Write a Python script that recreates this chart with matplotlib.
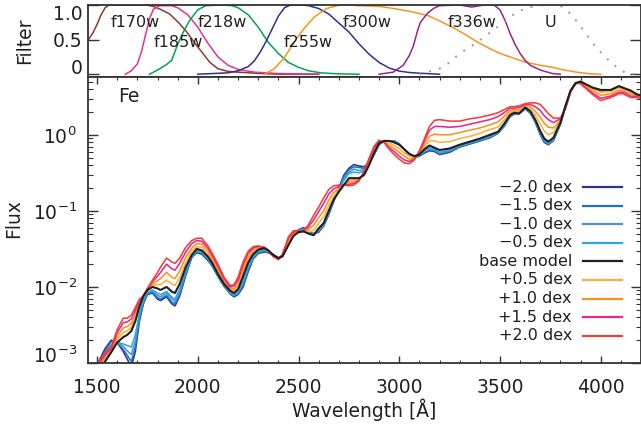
import numpy as np
import matplotlib
matplotlib.use("Agg")
import matplotlib.pyplot as plt
from matplotlib.lines import Line2D
from matplotlib.ticker import MultipleLocator, LogLocator, NullFormatter, NullLocator

plt.rcParams['font.family'] = ['DejaVu Sans']
plt.rcParams['mathtext.fontset'] = 'dejavusans'

# ---------------- spectra (log10 flux) ----------------
wave = [1510, 1540, 1570, 1600, 1630, 1650, 1670, 1690, 1710, 1730,
        1750, 1775, 1800, 1815, 1845, 1870, 1887, 1910, 1940, 1970,
        1995, 2020, 2050, 2070, 2100, 2130, 2160, 2180, 2200, 2225,
        2250, 2275, 2300, 2330, 2350, 2375, 2400, 2420, 2450, 2475,
        2500, 2525, 2550, 2575, 2600, 2625, 2650, 2675, 2700, 2725,
        2750, 2775, 2800, 2825, 2850, 2875, 2900, 2925, 2950, 2975,
        3000, 3025, 3050, 3075, 3100, 3125, 3150, 3175, 3200, 3250,
        3300, 3350, 3400, 3450, 3490, 3520, 3550, 3570, 3595, 3625,
        3650, 3675, 3700, 3720, 3740, 3765, 3800, 3825, 3850, 3875,
        3900, 3930, 3960, 4000, 4050, 4090, 4110, 4150, 4180, 4200]

log_m20 = [-2.97, -2.81, -2.70, -2.73, -2.85, -2.95, -3.05, -2.85, -2.45, -2.22,
           -2.10, -2.08, -2.16, -2.18, -2.13, -2.22, -2.25, -2.12, -1.85, -1.61,
           -1.55, -1.57, -1.65, -1.72, -1.86, -1.99, -2.09, -2.13, -2.10, -2.00,
           -1.80, -1.63, -1.56, -1.54, -1.55, -1.58, -1.62, -1.59, -1.42, -1.31,
           -1.25, -1.22, -1.28, -1.30, -1.28, -1.20, -1.05, -0.87, -0.70, -0.53,
           -0.44, -0.39, -0.41, -0.42, -0.37, -0.26, -0.13, -0.08, -0.08, -0.08,
           -0.12, -0.19, -0.27, -0.30, -0.28, -0.24, -0.21, -0.22, -0.26, -0.23,
           -0.16, -0.12, -0.08, -0.04, 0.02, 0.11, 0.24, 0.27, 0.28, 0.34,
           0.29, 0.17, 0.00, -0.10, -0.13, -0.08, 0.14, 0.37, 0.57, 0.67,
           0.70, 0.65, 0.61, 0.58, 0.58, 0.63, 0.61, 0.57, 0.53, 0.52]

log_m15 = [-2.99, -2.84, -2.72, -2.73, -2.82, -2.90, -2.98, -2.79, -2.42, -2.21,
           -2.09, -2.07, -2.14, -2.16, -2.11, -2.20, -2.22, -2.10, -1.83, -1.61,
           -1.54, -1.56, -1.64, -1.71, -1.86, -1.99, -2.08, -2.12, -2.09, -1.98,
           -1.78, -1.62, -1.55, -1.53, -1.55, -1.58, -1.62, -1.59, -1.42, -1.31,
           -1.25, -1.23, -1.28, -1.30, -1.27, -1.19, -1.04, -0.87, -0.71, -0.55,
           -0.46, -0.42, -0.43, -0.44, -0.37, -0.26, -0.13, -0.08, -0.08, -0.08,
           -0.12, -0.19, -0.27, -0.30, -0.28, -0.23, -0.20, -0.21, -0.25, -0.22,
           -0.16, -0.12, -0.08, -0.03, 0.02, 0.11, 0.24, 0.27, 0.28, 0.34,
           0.29, 0.17, 0.01, -0.09, -0.12, -0.07, 0.14, 0.37, 0.57, 0.67,
           0.70, 0.65, 0.61, 0.58, 0.58, 0.63, 0.61, 0.57, 0.53, 0.52]

log_m10 = [-3.02, -2.87, -2.76, -2.73, -2.78, -2.84, -2.89, -2.71, -2.38, -2.19,
           -2.08, -2.05, -2.11, -2.13, -2.08, -2.16, -2.19, -2.06, -1.81, -1.60,
           -1.53, -1.55, -1.63, -1.71, -1.85, -1.98, -2.08, -2.11, -2.08, -1.95,
           -1.76, -1.61, -1.54, -1.52, -1.54, -1.58, -1.62, -1.59, -1.43, -1.32,
           -1.26, -1.24, -1.29, -1.31, -1.26, -1.19, -1.03, -0.86, -0.72, -0.58,
           -0.49, -0.45, -0.47, -0.46, -0.38, -0.25, -0.12, -0.08, -0.08, -0.09,
           -0.12, -0.19, -0.26, -0.29, -0.27, -0.22, -0.19, -0.20, -0.24, -0.21,
           -0.15, -0.11, -0.07, -0.03, 0.03, 0.12, 0.25, 0.28, 0.28, 0.35,
           0.30, 0.18, 0.02, -0.08, -0.12, -0.07, 0.15, 0.37, 0.57, 0.68,
           0.70, 0.65, 0.61, 0.58, 0.58, 0.63, 0.61, 0.57, 0.53, 0.52]

log_m05 = [-3.04, -2.90, -2.79, -2.73, -2.75, -2.77, -2.79, -2.63, -2.35, -2.17,
           -2.07, -2.04, -2.08, -2.10, -2.06, -2.13, -2.16, -2.03, -1.79, -1.59,
           -1.52, -1.54, -1.62, -1.70, -1.84, -1.97, -2.07, -2.10, -2.06, -1.92,
           -1.73, -1.60, -1.53, -1.51, -1.53, -1.58, -1.62, -1.60, -1.44, -1.32,
           -1.27, -1.25, -1.29, -1.31, -1.25, -1.18, -1.02, -0.86, -0.73, -0.60,
           -0.51, -0.49, -0.50, -0.48, -0.39, -0.25, -0.12, -0.08, -0.08, -0.09,
           -0.13, -0.19, -0.26, -0.29, -0.27, -0.21, -0.17, -0.19, -0.23, -0.20,
           -0.14, -0.10, -0.06, -0.02, 0.03, 0.13, 0.25, 0.28, 0.28, 0.35,
           0.30, 0.19, 0.03, -0.07, -0.11, -0.06, 0.15, 0.38, 0.58, 0.68,
           0.70, 0.66, 0.62, 0.59, 0.59, 0.64, 0.62, 0.58, 0.53, 0.52]

log_base = [-3.10, -2.98, -2.86, -2.73, -2.66, -2.63, -2.58, -2.45, -2.26, -2.12,
            -2.04, -2.00, -2.02, -2.04, -2.00, -2.06, -2.08, -1.96, -1.74, -1.58,
            -1.50, -1.52, -1.60, -1.68, -1.83, -1.96, -2.05, -2.08, -2.03, -1.86,
            -1.68, -1.57, -1.51, -1.49, -1.52, -1.58, -1.62, -1.60, -1.45, -1.33,
            -1.28, -1.27, -1.30, -1.32, -1.23, -1.16, -1.00, -0.85, -0.75, -0.66,
            -0.57, -0.57, -0.57, -0.53, -0.40, -0.24, -0.11, -0.08, -0.08, -0.10,
            -0.13, -0.19, -0.25, -0.28, -0.26, -0.19, -0.14, -0.17, -0.20, -0.18,
            -0.13, -0.09, -0.05, 0.00, 0.04, 0.14, 0.26, 0.29, 0.28, 0.36,
            0.31, 0.20, 0.05, -0.05, -0.09, -0.04, 0.16, 0.38, 0.58, 0.68,
            0.70, 0.66, 0.62, 0.59, 0.59, 0.64, 0.62, 0.58, 0.53, 0.52]

log_p05 = [-3.07, -2.95, -2.84, -2.69, -2.60, -2.58, -2.53, -2.41, -2.24, -2.12,
           -2.04, -1.98, -1.97, -1.97, -1.91, -1.96, -1.98, -1.88, -1.68, -1.53,
           -1.47, -1.48, -1.57, -1.65, -1.80, -1.94, -2.03, -2.05, -1.99, -1.81,
           -1.64, -1.55, -1.50, -1.49, -1.52, -1.58, -1.62, -1.59, -1.42, -1.31,
           -1.28, -1.27, -1.27, -1.26, -1.16, -1.08, -0.93, -0.81, -0.73, -0.66,
           -0.60, -0.59, -0.58, -0.52, -0.38, -0.22, -0.10, -0.09, -0.11, -0.14,
           -0.18, -0.24, -0.28, -0.29, -0.25, -0.16, -0.08, -0.08, -0.10, -0.09,
           -0.05, -0.02, 0.02, 0.07, 0.10, 0.19, 0.29, 0.31, 0.31, 0.37,
           0.34, 0.26, 0.14, 0.05, 0.00, 0.03, 0.18, 0.37, 0.58, 0.68,
           0.69, 0.65, 0.60, 0.56, 0.57, 0.62, 0.60, 0.56, 0.52, 0.51]

log_p10 = [-3.04, -2.93, -2.83, -2.65, -2.54, -2.52, -2.48, -2.36, -2.21, -2.12,
           -2.03, -1.96, -1.92, -1.89, -1.81, -1.87, -1.89, -1.79, -1.61, -1.49,
           -1.43, -1.44, -1.53, -1.62, -1.77, -1.92, -2.02, -2.03, -1.95, -1.77,
           -1.61, -1.52, -1.49, -1.48, -1.52, -1.59, -1.63, -1.59, -1.40, -1.30,
           -1.27, -1.27, -1.24, -1.19, -1.09, -1.00, -0.86, -0.76, -0.71, -0.66,
           -0.62, -0.62, -0.59, -0.51, -0.36, -0.20, -0.09, -0.09, -0.14, -0.18,
           -0.23, -0.28, -0.32, -0.31, -0.24, -0.12, -0.02, 0.01, 0.00, 0.00,
           0.03, 0.06, 0.09, 0.13, 0.17, 0.24, 0.32, 0.33, 0.33, 0.39,
           0.37, 0.31, 0.23, 0.15, 0.10, 0.09, 0.19, 0.36, 0.57, 0.68,
           0.69, 0.63, 0.58, 0.52, 0.54, 0.59, 0.58, 0.54, 0.51, 0.50]

log_p15 = [-3.00, -2.89, -2.81, -2.60, -2.47, -2.46, -2.42, -2.31, -2.18, -2.12,
           -2.02, -1.93, -1.86, -1.81, -1.70, -1.76, -1.78, -1.69, -1.54, -1.43,
           -1.39, -1.40, -1.49, -1.58, -1.73, -1.89, -2.00, -1.99, -1.91, -1.71,
           -1.56, -1.49, -1.47, -1.48, -1.52, -1.60, -1.64, -1.58, -1.36, -1.28,
           -1.26, -1.26, -1.21, -1.12, -1.01, -0.90, -0.78, -0.71, -0.68, -0.66,
           -0.65, -0.64, -0.60, -0.49, -0.33, -0.17, -0.08, -0.10, -0.17, -0.22,
           -0.28, -0.33, -0.35, -0.32, -0.22, -0.08, 0.06, 0.11, 0.11, 0.10,
           0.11, 0.14, 0.17, 0.20, 0.24, 0.29, 0.35, 0.35, 0.36, 0.40,
           0.40, 0.37, 0.32, 0.25, 0.20, 0.16, 0.21, 0.35, 0.56, 0.68,
           0.68, 0.61, 0.55, 0.48, 0.51, 0.56, 0.56, 0.51, 0.50, 0.49]

log_p20 = [-2.97, -2.87, -2.79, -2.56, -2.41, -2.41, -2.37, -2.27, -2.16, -2.12,
           -2.02, -1.91, -1.81, -1.74, -1.62, -1.67, -1.69, -1.62, -1.48, -1.39,
           -1.36, -1.36, -1.46, -1.55, -1.70, -1.87, -1.98, -1.97, -1.87, -1.67,
           -1.53, -1.47, -1.46, -1.48, -1.52, -1.60, -1.64, -1.57, -1.34, -1.26,
           -1.26, -1.26, -1.18, -1.06, -0.95, -0.83, -0.72, -0.67, -0.66, -0.66,
           -0.67, -0.66, -0.61, -0.48, -0.31, -0.15, -0.07, -0.10, -0.19, -0.26,
           -0.32, -0.37, -0.38, -0.33, -0.21, -0.05, 0.11, 0.19, 0.20, 0.18,
           0.18, 0.21, 0.23, 0.26, 0.29, 0.33, 0.37, 0.37, 0.38, 0.41,
           0.42, 0.42, 0.40, 0.34, 0.28, 0.22, 0.22, 0.34, 0.56, 0.68,
           0.67, 0.60, 0.53, 0.45, 0.49, 0.54, 0.54, 0.49, 0.49, 0.48]

series_labels = ['\u22122.0 dex', '\u22121.5 dex', '\u22121.0 dex', '\u22120.5 dex',
                 'base model', '+0.5 dex', '+1.0 dex', '+1.5 dex', '+2.0 dex']
series_colors = ['#2e3192', '#1c75bc', '#4a93d6', '#27aae1', '#231f20',
                 '#fbb040', '#f7941d', '#ec268f', '#ef4136']
series_data = [log_m20, log_m15, log_m10, log_m05, log_base,
               log_p05, log_p10, log_p15, log_p20]

# ---------------- filter curves ----------------
f170w_wave = [1455, 1480, 1500, 1520, 1540, 1560, 1650, 1740, 1780, 1820, 1860, 1900,
              1940, 1980, 2020, 2060, 2100, 2150, 2200, 2260, 2320, 2400, 2600]
f170w_thr = [0.49, 0.60, 0.72, 0.86, 0.96, 1.0, 1.0, 1.0, 0.98, 0.93, 0.87, 0.76,
             0.63, 0.47, 0.32, 0.17, 0.08, 0.04, 0.03, 0.02, 0.01, 0.0, 0.0]
f185w_wave = [1640, 1670, 1700, 1720, 1740, 1760, 1780, 1810, 1870, 1900, 1950, 2000,
              2050, 2100, 2150, 2200, 2280, 2400, 2600]
f185w_thr = [0.0, 0.05, 0.15, 0.32, 0.56, 0.80, 0.94, 0.99, 0.99, 0.96, 0.86, 0.68,
             0.45, 0.25, 0.13, 0.07, 0.03, 0.01, 0.0]
f218w_wave = [1760, 1800, 1840, 1870, 1900, 1930, 1960, 2000, 2040, 2120, 2170, 2200,
              2250, 2300, 2350, 2400, 2450, 2500, 2550, 2610, 2700, 2800]
f218w_thr = [0.0, 0.06, 0.13, 0.20, 0.43, 0.62, 0.78, 0.93, 0.99, 1.0, 0.99, 0.96,
             0.86, 0.68, 0.46, 0.30, 0.17, 0.10, 0.05, 0.02, 0.005, 0.0]
f255w_wave = [2000, 2150, 2200, 2250, 2280, 2310, 2340, 2370, 2400, 2430, 2460, 2510,
              2550, 2600, 2650, 2700, 2750, 2800, 2850, 2900, 2950, 3000, 3050, 3100, 3200]
f255w_thr = [0.0, 0.02, 0.05, 0.11, 0.19, 0.32, 0.48, 0.66, 0.84, 0.96, 1.0, 1.0,
             0.99, 0.95, 0.87, 0.74, 0.61, 0.44, 0.29, 0.17, 0.09, 0.045, 0.025, 0.015, 0.0]
f300w_wave = [2330, 2380, 2430, 2480, 2530, 2580, 2640, 2700, 2750, 2800, 2900, 2970,
              3050, 3140, 3200, 3270, 3330, 3390, 3450, 3500, 3570, 3630, 3700, 3760,
              3820, 3880, 3950, 4000]
f300w_thr = [0.0, 0.08, 0.24, 0.47, 0.67, 0.83, 0.95, 0.995, 1.0, 0.99, 0.98, 0.95,
             0.91, 0.85, 0.77, 0.67, 0.57, 0.46, 0.37, 0.30, 0.23, 0.17, 0.13, 0.10,
             0.06, 0.03, 0.005, 0.0]
f336w_wave = [2900, 2970, 3020, 3050, 3070, 3090, 3105, 3140, 3170, 3200, 3300, 3360,
              3420, 3470, 3500, 3525, 3550, 3575, 3600, 3625, 3650, 3700, 3760, 3800]
f336w_thr = [0.0, 0.03, 0.13, 0.27, 0.41, 0.62, 0.75, 0.88, 0.95, 0.99, 1.0, 0.97,
             1.0, 1.0, 0.93, 0.78, 0.59, 0.43, 0.30, 0.20, 0.13, 0.06, 0.01, 0.0]
U_wave = [3100, 3150, 3200, 3250, 3300, 3350, 3400, 3450, 3500, 3550, 3600, 3650,
          3700, 3750, 3800, 3830, 3860, 3890, 3920, 3950, 3980, 4010, 4040, 4080,
          4110, 4140, 4170]
U_thr = [0.0, 0.04, 0.08, 0.17, 0.30, 0.39, 0.49, 0.60, 0.71, 0.83, 0.92, 0.97,
         0.995, 1.0, 0.99, 0.93, 0.84, 0.73, 0.61, 0.49, 0.38, 0.29, 0.20, 0.10,
         0.04, 0.01, 0.0]

filter_names = ['f170w', 'f185w', 'f218w', 'f255w', 'f300w', 'f336w', 'U']
filter_curves = [(f170w_wave, f170w_thr), (f185w_wave, f185w_thr), (f218w_wave, f218w_thr),
                 (f255w_wave, f255w_thr), (f300w_wave, f300w_thr), (f336w_wave, f336w_thr),
                 (U_wave, U_thr)]
filter_colors = ['#8b3a2b', '#e6338c', '#00a651', '#2e3192', '#f7941d', '#92278f', '#999999']
filter_label_x = [1690, 1902, 2120, 2547, 2840, 3360, 3750]
filter_label_y = [0.75, 0.46, 0.75, 0.46, 0.75, 0.75, 0.75]

# ---------------- figure ----------------
W, H = 641, 428
fig = plt.figure(figsize=(W / 100, H / 100), dpi=100)
txt = '#231f20'
spine_c = '#333333'

def fx(px):
    return px / W

def fy(py):
    return 1 - py / H

ax_f = fig.add_axes([fx(88), fy(77), fx(641) - fx(88), fy(5) - fy(77)])
ax = fig.add_axes([fx(88), fy(363), fx(641) - fx(88), fy(77) - fy(363)])

xlim = (1455, 4200)

# filter panel
for (wv, th), c, name in zip(filter_curves, filter_colors, filter_names):
    if name == 'U':
        ax_f.plot(wv, th, color=c, lw=1.4, linestyle=(0, (1.0, 4.2)))
    else:
        ax_f.plot(wv, th, color=c, lw=1.1)
for name, lx, ly in zip(filter_names, filter_label_x, filter_label_y):
    ax_f.text(lx, ly, name, ha='center', va='center', fontsize=11.5, color=txt)
ax_f.set_xlim(*xlim)
ax_f.set_ylim(-0.04, 1.0)
ax_f.set_yticks([0, 0.5, 1.0])
ax_f.set_yticklabels(['0', '0.5', '1.0'])
ax_f.xaxis.set_major_locator(NullLocator())
ax_f.xaxis.set_minor_locator(NullLocator())
ax_f.tick_params(axis='y', which='both', direction='in', right=True,
                 colors=spine_c, labelcolor=txt)
ax_f.tick_params(axis='y', which='major', length=8, width=1.0, labelsize=13.5, pad=4)
lbls = ax_f.get_yticklabels()
lbls[0].set_va('baseline')
lbls[2].set_va('top')
ax_f.set_ylabel('Filter', fontsize=13.5, color=txt, va='center')
ax_f.yaxis.set_label_coords((25 - 88) / 553, 0.5)

# main panel
order = [0, 1, 2, 3, 5, 6, 7, 8, 4]
for i in order:
    lw = 1.5 if i == 4 else 1.15
    ax.plot(wave, 10 ** np.array(series_data[i]), color=series_colors[i], lw=lw)
ax.set_yscale('log')
ax.set_xlim(*xlim)
ax.set_ylim(10 ** -3.0, 10 ** 0.76)
ax.xaxis.set_major_locator(MultipleLocator(500))
ax.xaxis.set_minor_locator(MultipleLocator(100))
ax.yaxis.set_major_locator(LogLocator(base=10, subs=(1.0,)))
ax.yaxis.set_minor_locator(LogLocator(base=10, subs=np.arange(2, 10)))
ax.yaxis.set_minor_formatter(NullFormatter())
ax.tick_params(axis='both', which='both', direction='in', top=True, right=True,
               colors=spine_c, labelcolor=txt)
ax.tick_params(axis='x', which='major', length=5, width=1.0, labelsize=13.5, pad=11)
ax.tick_params(axis='x', which='minor', length=2.2, width=0.8)
ax.tick_params(axis='y', which='major', length=7.5, width=1.0, labelsize=13.5, pad=8)
ax.tick_params(axis='y', which='minor', length=3.8, width=0.8)
fig.canvas.draw()
for t in ax.get_yticklabels():
    if abs(t.get_position()[1] - 1e-3) < 1e-6:
        t.set_va('baseline')

ax.set_xlabel('Wavelength [\u00c5]', fontsize=13.5, color=txt, va='center')
ax.xaxis.set_label_coords(0.5, (363 - 410) / 286)
ax.set_ylabel('Flux', fontsize=13.5, color=txt, va='center')
ax.yaxis.set_label_coords((14 - 88) / 553, 0.505)

ax.text((118 - 88) / 553, (363 - 97) / 286, 'Fe', transform=ax.transAxes,
        ha='left', va='center', fontsize=13.5, color=txt)

# legend (right-aligned labels, sample lines on the right)
row_y0 = (363 - 187) / 286
row_dy = 18.6 / 286
for k, (lab, c) in enumerate(zip(series_labels, series_colors)):
    yy = row_y0 - k * row_dy
    ax.text((572 - 88) / 553, yy, lab, transform=ax.transAxes, ha='right',
            va='center', fontsize=11.5, color=txt)
    ax.add_line(Line2D([(583 - 88) / 553, (622 - 88) / 553], [yy, yy],
                       transform=ax.transAxes, color=c, lw=1.6))

for a in (ax, ax_f):
    for s in a.spines.values():
        s.set_color(spine_c)
        s.set_linewidth(1.3)

fig.savefig('out.png', dpi=100)
